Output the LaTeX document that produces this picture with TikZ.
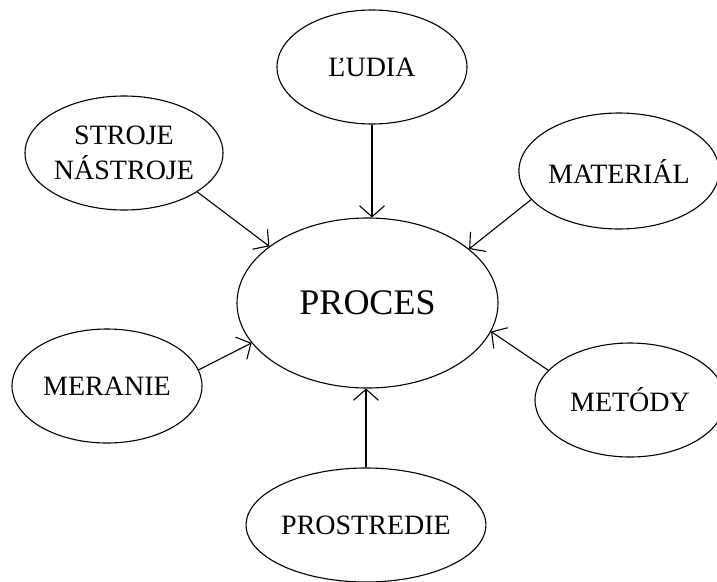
\documentclass[tikz,border=0pt]{standalone}
\usepackage{fontspec}
\setmainfont{Liberation Serif}
\usetikzlibrary{positioning, shapes, arrows.meta}
\tikzstyle{factor}=[draw,ellipse,line width=1.1pt,minimum width=190pt,minimum height=114pt,inner sep=0pt,align=center,font=\fontsize{28}{35}\selectfont]
\tikzstyle{processNode}=[factor,minimum width=261pt,minimum height=170pt,font=\fontsize{36}{42}\selectfont]
\tikzstyle{influence}=[-{Straight Barb[length=11pt,width=25pt]}, line width=1.1pt]

\begin{document}
\begin{tikzpicture}[x=1pt, y=-1pt]
        \useasboundingbox (0, 0) rectangle (717, 581);

        \node[processNode] (proces) at (367.5, 303) {PROCES};

        \node[factor] (ludia) at (372, 67) {ĽUDIA};
        \node[factor, minimum width=192pt] (stroje) at (124, 153) {STROJE\\NÁSTROJE};
        \node[factor, minimum height=116pt] (material) at (619, 171) {MATERIÁL};
        \node[factor] (meranie) at (107, 386) {MERANIE};
        \node[factor] (metody) at (630, 400) {METÓDY};
        \node[factor, minimum width=192pt] (prostredie) at (366, 525) {PROSTREDIE};

        \draw[influence] (ludia.south) -- (ludia.south |- proces.north);
        \draw[influence] (stroje.-28) -- (proces.150);
        \draw[influence] (material.-162) -- (proces.28);
        \draw[influence] (meranie.10) -- (proces.199);
        \draw[influence] (metody.160) -- (proces.-13);
        \draw[influence] (prostredie.north) -- (prostredie.north |- proces.south);

    \end{tikzpicture}
\end{document}
